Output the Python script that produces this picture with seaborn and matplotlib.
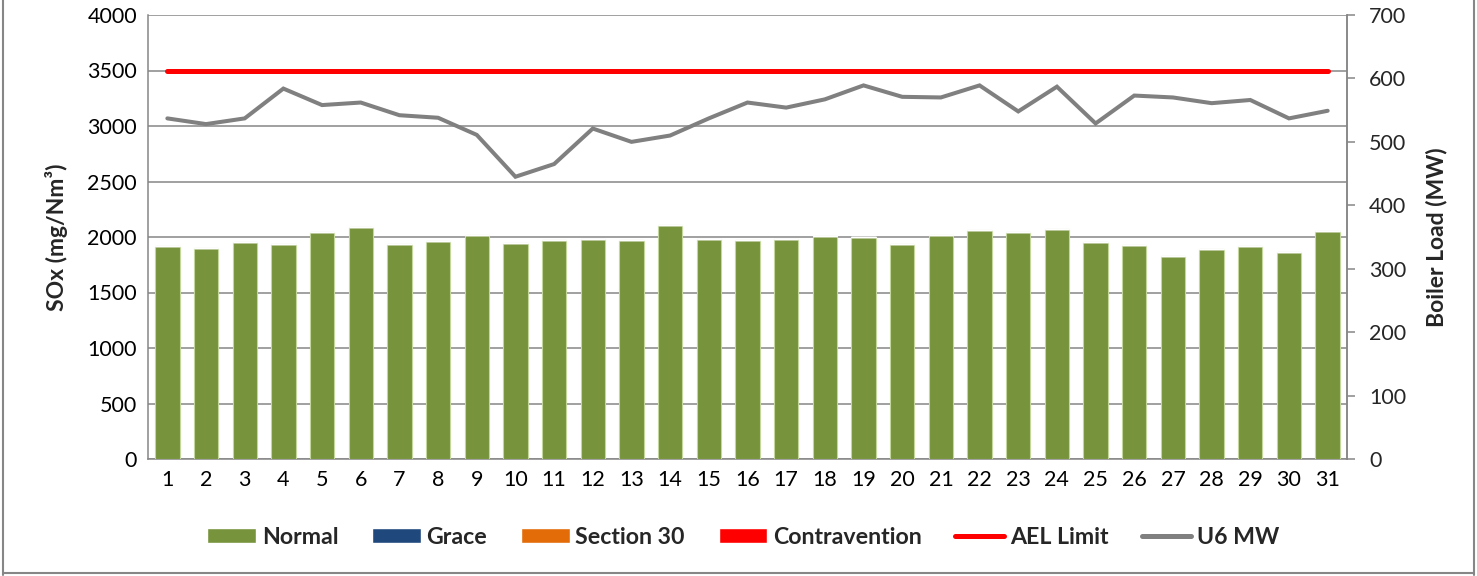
import numpy as np
import pandas as pd
import matplotlib
matplotlib.use("Agg")
import matplotlib.pyplot as plt
import seaborn as sns
from matplotlib.patches import Patch
from matplotlib.lines import Line2D

# ---- data ----
days = [str(d) for d in range(1, 32)]
normal = [1916, 1904, 1952, 1934, 2042, 2087, 1940, 1961, 2015, 1943,
          1970, 1985, 1976, 2111, 1982, 1973, 1982, 2009, 2000, 1934,
          2021, 2066, 2045, 2069, 1952, 1928, 1826, 1889, 1916, 1862, 2051]
grace = [0] * 31
section30 = [0] * 31
contravention = [0] * 31
ael_limit = [3500] * 31
u6_mw = [537, 528, 537, 584, 558, 562, 542, 538, 511, 445,
         465, 521, 500, 510, 537, 562, 554, 567, 589, 571,
         570, 589, 548, 587, 529, 573, 570, 561, 566, 537, 549]

left_ticks = [0, 500, 1000, 1500, 2000, 2500, 3000, 3500, 4000]
right_ticks = [0, 100, 200, 300, 400, 500, 600, 700]

# ---- style ----
sns.set_theme(style="white")
plt.rcParams['font.family'] = ['Lato', 'DejaVu Sans']

C_NORMAL = "#77933C"
C_GRACE = "#1F497D"
C_S30 = "#E36C09"
C_CONTRA = "#FF0000"
C_AEL = "#FF0000"
C_MW = "#808080"
GRID = "#868686"

fig = plt.figure(figsize=(14.77, 5.76), dpi=100)
ax = fig.add_axes([148 / 1477, 117 / 576, (1347 - 148) / 1477, (459 - 15) / 576])

df = pd.DataFrame({"day": days, "normal": normal})
sns.barplot(data=df, x="day", y="normal", color=C_NORMAL, width=0.63,
            saturation=1, edgecolor="#C3D69B", linewidth=0.8, ax=ax, zorder=3)
xpos = np.arange(len(days))
base = np.array(normal, dtype=float)
for vals, col in [(grace, C_GRACE), (section30, C_S30), (contravention, C_CONTRA)]:
    ax.bar(xpos, vals, bottom=base, width=0.63, color=col, zorder=3)
    base = base + np.array(vals)

sns.lineplot(x=xpos, y=ael_limit, color=C_AEL, linewidth=3.6, ax=ax,
             zorder=4, solid_capstyle="round")

ax.set_xlim(-0.5, len(days) - 0.5)
ax.set_ylim(0, 4000)
ax.set_yticks(left_ticks)
ax.yaxis.grid(True, color=GRID, linewidth=1.1)
ax.set_axisbelow(True)
ax.set_xlabel("")
ax.set_ylabel("SOx (mg/Nm³)", fontsize=16.5, fontweight="bold", labelpad=14)
ax.tick_params(axis="both", labelsize=15.5, length=0, pad=8, colors="#000000")
ax.spines["top"].set_visible(False)
for s in ["left", "bottom", "right"]:
    ax.spines[s].set_color(GRID)
    ax.spines[s].set_linewidth(1.1)

ax2 = ax.twinx()
sns.lineplot(x=xpos, y=u6_mw, color=C_MW, linewidth=2.9, ax=ax2, zorder=5,
             solid_capstyle="round", solid_joinstyle="miter")
ax2.set_ylim(0, 700)
ax2.set_yticks(right_ticks)
ax2.set_ylabel("Boiler Load (MW)", fontsize=16.5, fontweight="bold", labelpad=14)
ax2.tick_params(axis="y", labelsize=15.5, length=6, width=1.1, color=GRID,
                direction="out", pad=10)
ax2.spines["top"].set_visible(False)
ax2.spines["left"].set_visible(False)
ax2.spines["bottom"].set_visible(False)
ax2.spines["right"].set_color(GRID)
ax2.spines["right"].set_linewidth(1.1)
ax2.set_xlim(-0.5, len(days) - 0.5)

handles = [
    Patch(facecolor=C_NORMAL, label="Normal"),
    Patch(facecolor=C_GRACE, label="Grace"),
    Patch(facecolor=C_S30, label="Section 30"),
    Patch(facecolor=C_CONTRA, label="Contravention"),
    Line2D([0], [0], color=C_AEL, linewidth=3.6, solid_capstyle="round", label="AEL Limit"),
    Line2D([0], [0], color=C_MW, linewidth=3.6, solid_capstyle="round", label="U6 MW"),
]
fig.legend(handles=handles, loc="center", bbox_to_anchor=(743 / 1477, 1 - 537 / 576),
           ncol=6, frameon=False, prop={"weight": "bold", "size": 16.7},
           handlelength=2.1, handleheight=0.64, handletextpad=0.25,
           columnspacing=1.45, borderpad=0, borderaxespad=0)

# chart area border
border = dict(color="#868686", linewidth=1.5, transform=fig.transFigure)
fig.add_artist(Line2D([3 / 1477, 3 / 1477], [1 / 576, 1.0], **border))
fig.add_artist(Line2D([3 / 1477, 1474 / 1477], [3 / 576, 3 / 576], **border))
fig.add_artist(Line2D([1474 / 1477, 1474 / 1477], [1 / 576, 1.0], **border))

fig.savefig("out.png", dpi=100)
